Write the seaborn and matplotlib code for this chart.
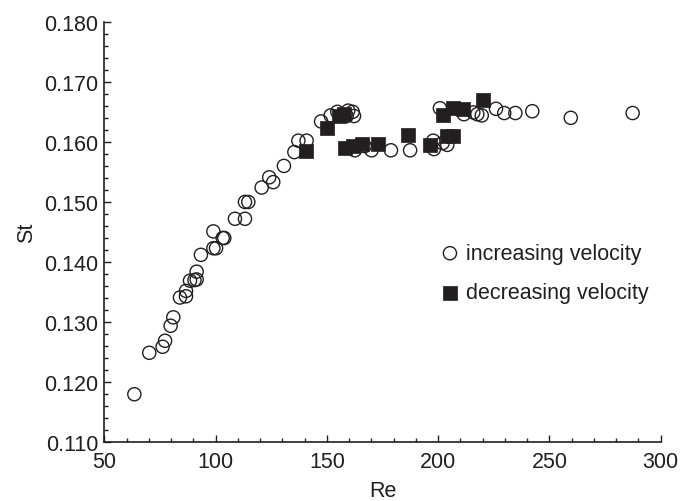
import pandas as pd
import numpy as np
import matplotlib
matplotlib.use("Agg")
import matplotlib.pyplot as plt
import seaborn as sns
from matplotlib.ticker import MultipleLocator, FormatStrFormatter

# increasing velocity (open circles)
re_inc = [63.5, 70.2, 76.2, 77.3, 79.8, 81.0, 84.0, 86.7, 86.7, 88.5, 90.5, 91.5,
          91.5, 93.4, 99.0, 100.2, 99.0, 103.2, 103.9, 108.7, 113.2, 113.2, 114.7,
          120.7, 124.1, 125.9, 130.7, 135.4, 137.2, 140.9, 147.4, 151.7, 154.7,
          158.9, 159.6, 161.6, 162.2, 162.6, 167.0, 170.1, 178.8, 187.4, 197.8,
          198.1, 202.0, 204.1, 200.8, 211.6, 215.8, 217.6, 219.6, 226.0, 229.7,
          234.7, 242.3, 259.6, 287.4]
st_inc = [0.1180, 0.1249, 0.1259, 0.1269, 0.1294, 0.1308, 0.1341, 0.1343, 0.1352,
          0.1369, 0.1370, 0.1371, 0.1384, 0.1412, 0.1423, 0.1423, 0.1451, 0.1440,
          0.1440, 0.1472, 0.1472, 0.1500, 0.1500, 0.1524, 0.1541, 0.1533, 0.1560,
          0.1583, 0.1602, 0.1602, 0.1634, 0.1644, 0.1650, 0.1643, 0.1652, 0.1650,
          0.1643, 0.1586, 0.1593, 0.1586, 0.1586, 0.1586, 0.1602, 0.1588, 0.1598,
          0.1595, 0.1656, 0.1646, 0.1649, 0.1646, 0.1644, 0.1655, 0.1648, 0.1648,
          0.1651, 0.1640, 0.1648]

# decreasing velocity (filled squares)
re_dec = [140.5, 150.2, 155.6, 157.5, 158.2, 161.6, 165.7, 173.1, 186.6, 196.3,
          202.0, 203.8, 206.8, 206.5, 211.0, 220.3]
st_dec = [0.1584, 0.1623, 0.1643, 0.1646, 0.1590, 0.1593, 0.1596, 0.1596, 0.1611,
          0.1594, 0.1644, 0.1610, 0.1610, 0.1657, 0.1655, 0.1669]

df_inc = pd.DataFrame({"Re": re_inc, "St": st_inc})
df_dec = pd.DataFrame({"Re": re_dec, "St": st_dec})

sns.set_style("ticks")
plt.rcParams["font.family"] = ["Liberation Sans", "DejaVu Sans"]

fig = plt.figure(figsize=(6.8, 5.02), dpi=100)
ax = fig.add_axes([0.1534, 0.1169, 0.8182, 0.8379])

ink = "#231f20"
fs = 15.5
sns.scatterplot(data=df_inc, x="Re", y="St", ax=ax, marker="o", s=90,
                facecolors="none", edgecolor=ink, linewidth=1.0,
                label="increasing velocity")
sns.scatterplot(data=df_dec, x="Re", y="St", ax=ax, marker="s", s=90,
                color=ink, edgecolor=ink, linewidth=0.5,
                label="decreasing velocity")

ax.set_xlim(50, 300)
ax.set_ylim(0.110, 0.180)
ax.xaxis.set_major_locator(MultipleLocator(50))
ax.xaxis.set_minor_locator(MultipleLocator(10))
ax.yaxis.set_major_locator(MultipleLocator(0.01))
ax.yaxis.set_minor_locator(MultipleLocator(0.002))
ax.yaxis.set_major_formatter(FormatStrFormatter("%.3f"))
ax.tick_params(which="both", direction="in", colors=ink, labelcolor=ink,
               labelsize=fs, width=1.0)
ax.tick_params(which="major", length=5)
ax.tick_params(which="minor", length=3)
ax.tick_params(axis="x", which="major", pad=6)
ax.tick_params(axis="y", which="major", pad=4.5)
sns.despine(ax=ax)
for sp in ["left", "bottom"]:
    ax.spines[sp].set_linewidth(1.2)
    ax.spines[sp].set_color(ink)

ax.set_xlabel("Re", fontsize=fs, color=ink, labelpad=6)
ax.set_ylabel("St", fontsize=fs, color=ink, labelpad=5)

leg = ax.legend(loc="center left", bbox_to_anchor=(0.598, 0.4025), frameon=False,
                fontsize=fs, handletextpad=0.15, labelspacing=0.85,
                borderaxespad=0, borderpad=0, handlelength=1.2)
for t in leg.get_texts():
    t.set_color(ink)

fig.savefig("out.png", dpi=100)
